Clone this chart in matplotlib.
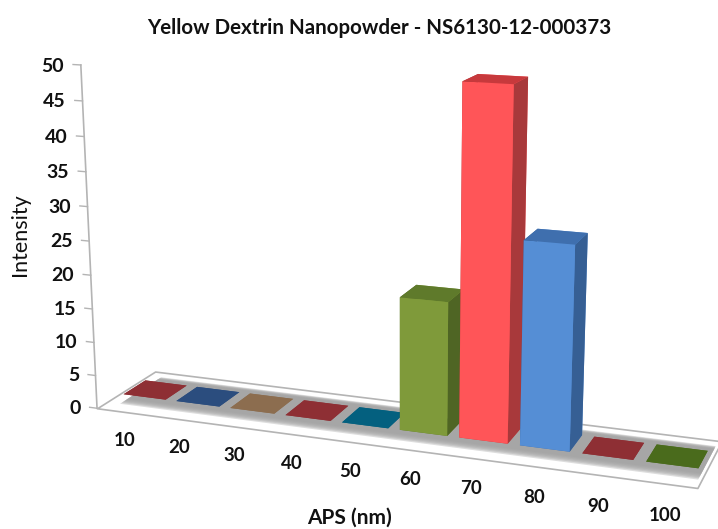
import matplotlib
matplotlib.use('Agg')
import matplotlib.pyplot as plt
import numpy as np
from mpl_toolkits.mplot3d import proj3d
from mpl_toolkits.mplot3d.art3d import Poly3DCollection

plt.rcParams['font.family'] = ['Lato', 'DejaVu Sans']

categories = [10, 20, 30, 40, 50, 60, 70, 80, 90, 100]
intensity = [0, 0, 0, 0, 0, 19.3, 49.6, 28.9, 0, 0]
zticks = [0, 5, 10, 15, 20, 25, 30, 35, 40, 45, 50]
front_colors = ['#8e2f34', '#2b4d7e', '#8c6d4f', '#8e2f34', '#04607f',
                '#7f9a3a', '#ff5558', '#558ed5', '#8e2f34', '#4a6b1c']
side_colors = ['#8e2f34', '#2b4d7e', '#8c6d4f', '#8e2f34', '#04607f',
               '#4f6524', '#a8393b', '#365f94', '#8e2f34', '#4a6b1c']
top_colors = ['#8e2f34', '#2b4d7e', '#8c6d4f', '#8e2f34', '#04607f',
              '#5f7a2b', '#c7393c', '#3f6fae', '#8e2f34', '#4a6b1c']

GREY = '#b4b4b4'
INK = '#111111'

fig = plt.figure(figsize=(7.18, 5.29), dpi=100)
# camera and box fitted to the floor corners of the original
ax = fig.add_axes([0.04258, -0.17856, 1.00474, 1.36371], projection='3d', computed_zorder=False)
ax.set_proj_type('persp', focal_length=0.4412)
ax.view_init(elev=14.6276, azim=-69.8899)
ax.set_box_aspect((1, 0.2034, 0.5725))
ax.set_xlim(0, 10)
ax.set_ylim(0, 1)
ax.set_zlim(0, 50)
ax.set_axis_off()


def label3d(x, y, z, s, **kw):
    # plain 2D text at the projected spot of a 3D point
    px, py, _ = proj3d.proj_transform(x, y, z, ax.get_proj())
    ax.text2D(px, py, s, transform=ax.transData, color=INK, fontweight='bold', **kw)


# floor
n = len(categories)
floor = Poly3DCollection([[(0, 0, 0), (n, 0, 0), (n, 1, 0), (0, 1, 0)]], facecolor='white',
                         edgecolor=GREY, linewidth=1.2, zorder=1)
ax.add_collection3d(floor)
# grey band under the bars, soft at the edges
for k in range(6):
    y0 = 0.16 + k * 0.025
    y1 = 0.88 - k * 0.012
    band = Poly3DCollection([[(0.25, y0, 0), (n - 0.05, y0, 0), (n - 0.05, y1, 0), (0.25, y1, 0)]],
                            facecolor='#a0a0a0', alpha=0.35, linewidth=0, zorder=2)
    ax.add_collection3d(band)

# bars, left to right so that each one covers the side of the one before
for i in range(n):
    faces = [top_colors[i], top_colors[i], front_colors[i], front_colors[i], side_colors[i], side_colors[i]]
    ax.bar3d(i + 0.07, 0.38, 0, 0.8, 0.38, intensity[i], color=faces, shade=False, linewidth=0, zorder=3 + i)

# value axis
ax.plot([0, 0], [0, 0], [0, 50], color=GREY, linewidth=1.2, zorder=2)
for z in zticks:
    ax.plot([-0.14, 0], [0, 0], [z, z], color=GREY, linewidth=1, zorder=2)
    label3d(-0.31, 0, z - 0.3, str(z), ha='right', va='center', fontsize=14)

for i, c in enumerate(categories):
    label3d(i + 0.56, -0.06, -3.9, str(c), ha='center', va='center', fontsize=13.5)

fig.text(0.528, 0.948, 'Yellow Dextrin Nanopowder - NS6130-12-000373', ha='center', va='center',
         fontsize=14.8, fontweight='bold', color=INK)
fig.text(0.487, 0.021, 'APS (nm)', ha='center', va='center', fontsize=15, fontweight='bold', color=INK)
fig.text(0.028, 0.557, 'Intensity', ha='center', va='center', rotation=90, fontsize=15.5, color=INK)

fig.savefig('out.png', dpi=100)
